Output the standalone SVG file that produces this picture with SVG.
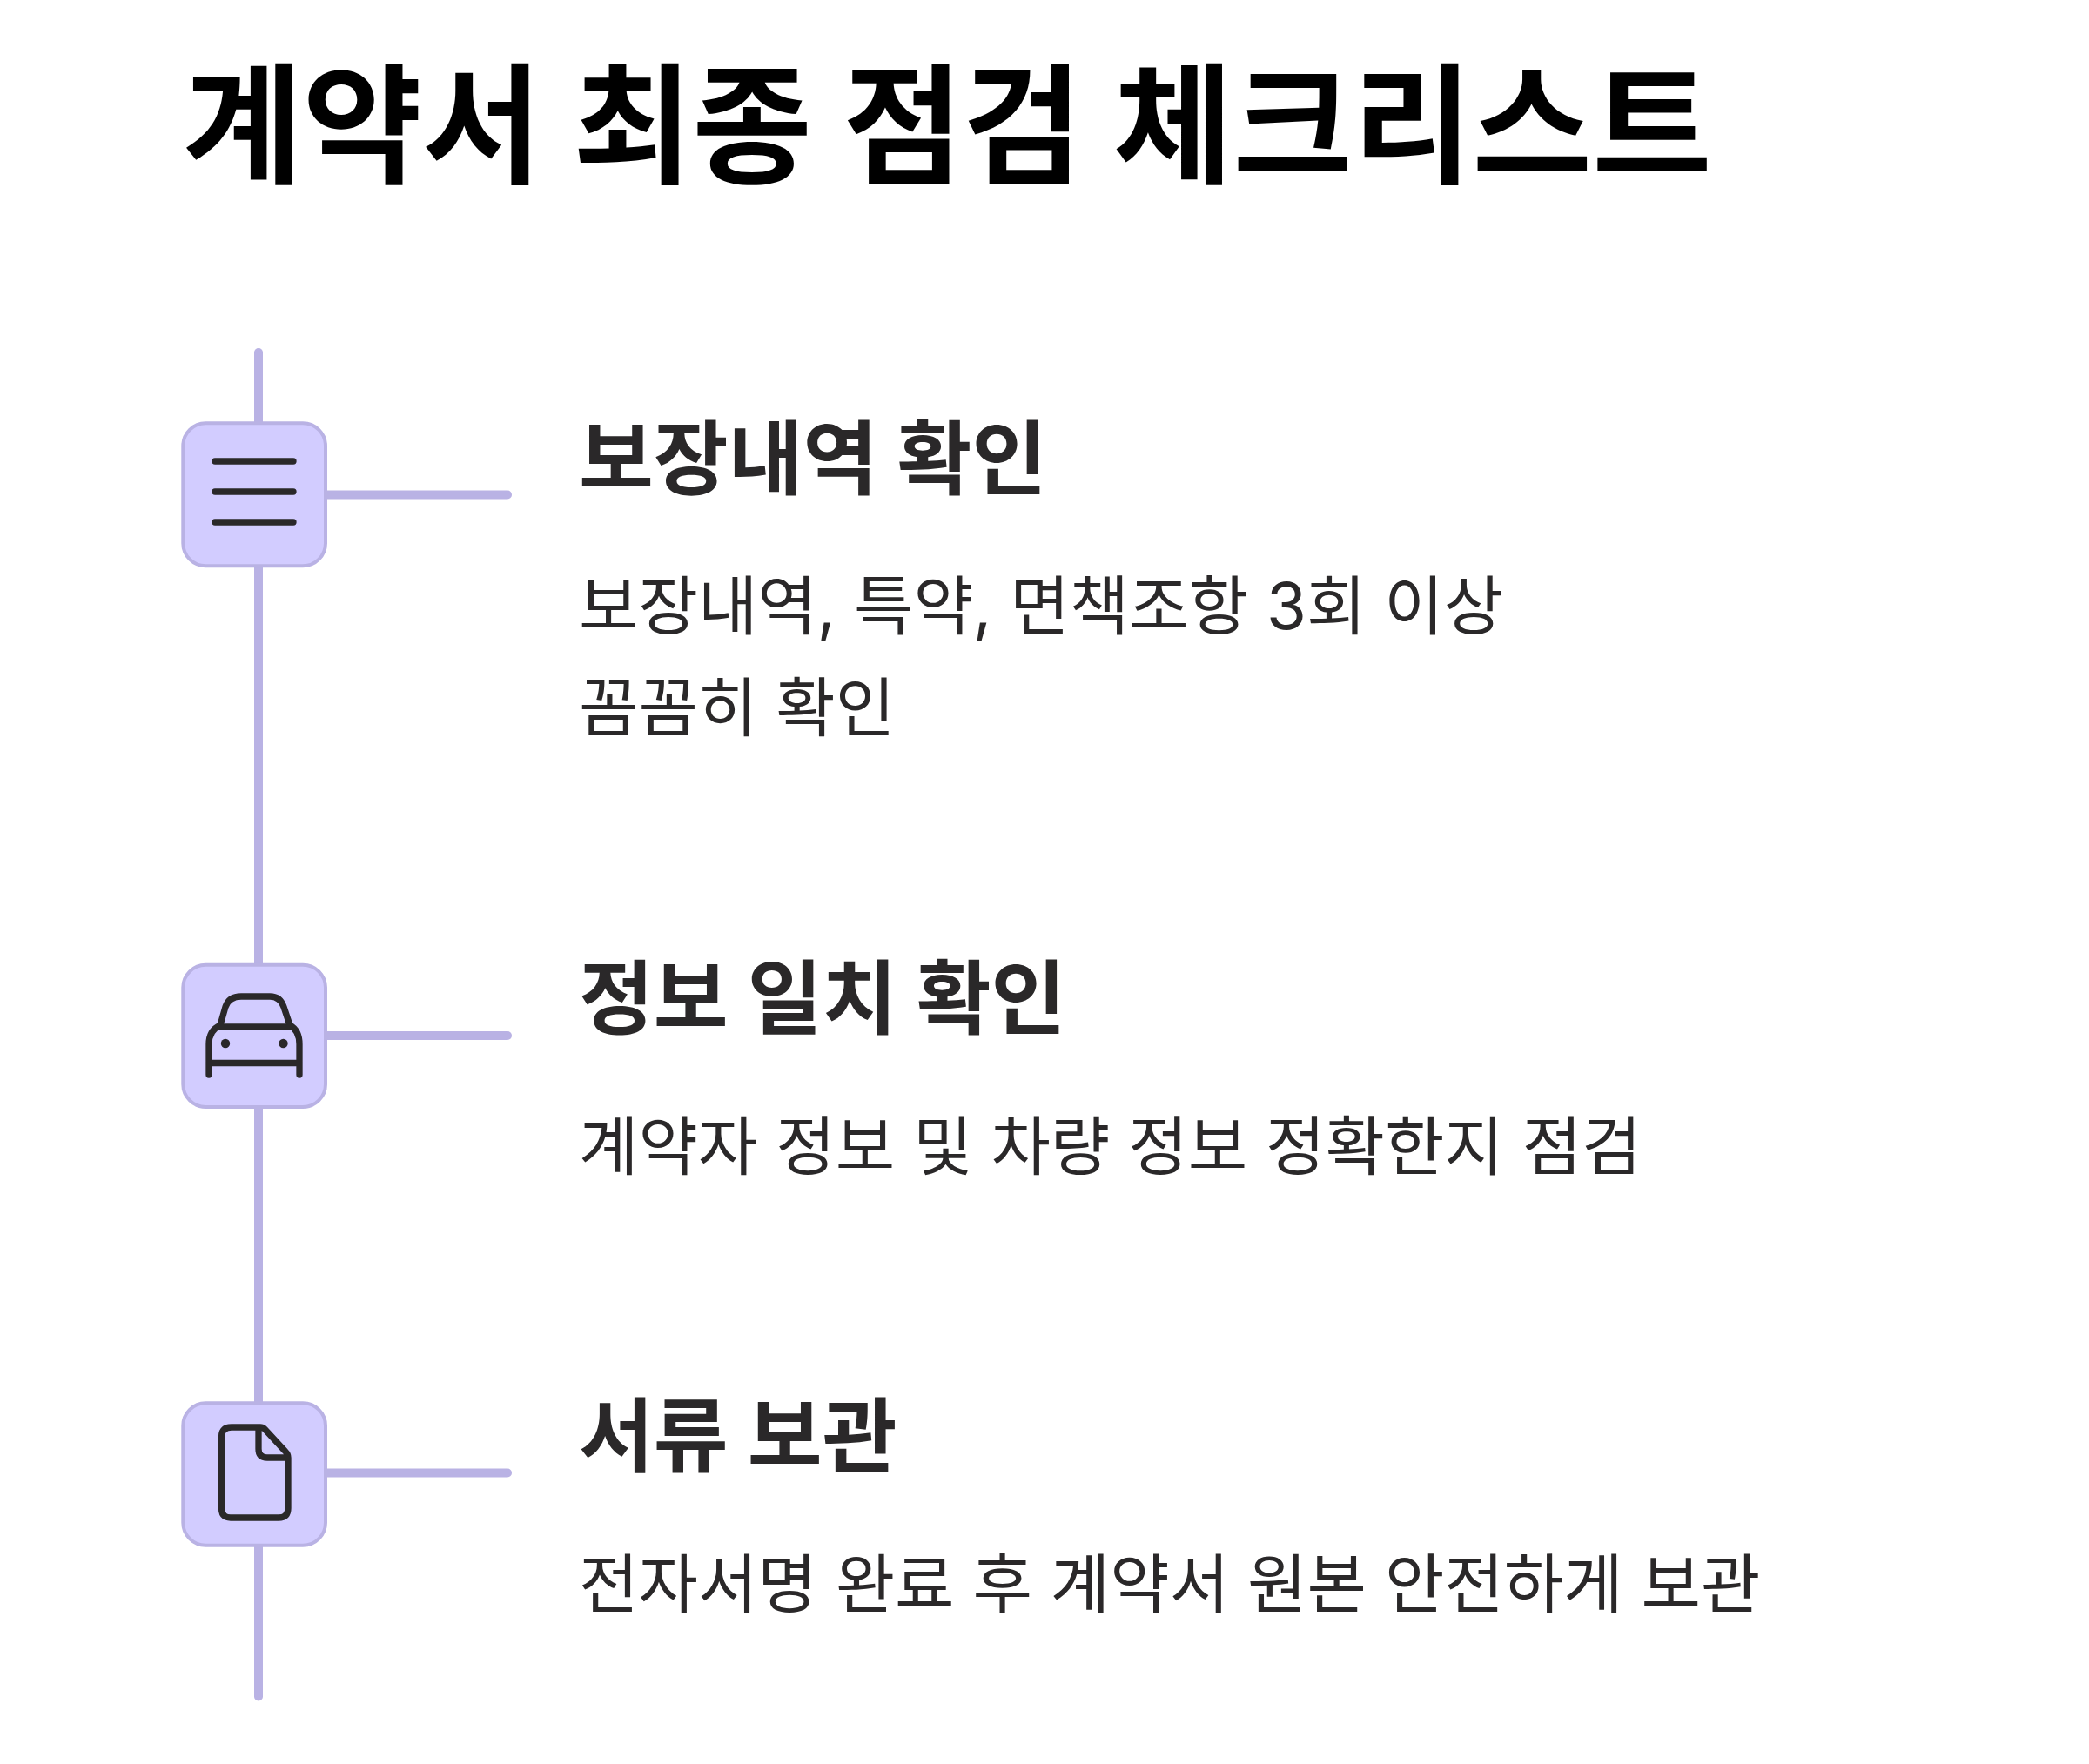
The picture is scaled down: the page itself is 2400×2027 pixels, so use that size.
<svg xmlns="http://www.w3.org/2000/svg" width="2400" height="2027" viewBox="0 0 2400 2027">
<style>
text{font-family:"Inter","Noto Sans CJK KR",sans-serif;fill:#2a2829}
.t{font-size:149.5px;font-weight:700;fill:#000}
.h{font-size:93.33px;font-weight:700}
.d{font-size:74.4px;font-weight:400}
.l{stroke:#b9b2e4;stroke-width:10;stroke-linecap:round;fill:none}
.b{fill:#d2ccff;stroke:#b9b2e4;stroke-width:4}
.i{fill:none;stroke:#2a2829;stroke-width:7.3;stroke-linecap:round;stroke-linejoin:round}
</style>
<rect width="2400" height="2027" fill="#fff"/>
<text class="t" x="210" y="199">계약서 최종 점검 체크리스트</text>
<g id="connectors">
<path class="l" d="M297 405V1949.500"/>
<path class="l" d="M375 568.500H583"/>
<path class="l" d="M375 1190H583"/>
<path class="l" d="M375 1692.500H583"/>
</g>
<g id="node1">
<rect class="b" x="210.300" y="486.300" width="163.700" height="164" rx="26"/>
<path class="i" d="M247 530H337M247 565H337M247 600H337"/>
<text class="h" x="665" y="561">보장내역 확인</text>
<text class="d" x="665" y="723">보장내역, 특약, 면책조항 3회 이상</text>
<text class="d" x="665" y="840">꼼꼼히 확인</text>
</g>
<g id="node2">
<rect class="b" x="210.300" y="1108.700" width="163.700" height="163.300" rx="26"/>
<path class="i" d="M240 1235V1200Q240 1184 253 1178L259 1157Q263 1145 277 1145H310Q322 1145 326 1157L333 1178Q344 1184 344 1200V1235M240 1221.500H344M253 1180H333"/>
<circle cx="259" cy="1199" r="5.200" fill="#2a2829"/><circle cx="325.500" cy="1199" r="5.200" fill="#2a2829"/>
<text class="h" x="665" y="1181">정보 일치 확인</text>
<text class="d" x="665" y="1344">계약자 정보 및 차량 정보 정확한지 점검</text>
</g>
<g id="node3">
<rect class="b" x="210.300" y="1612.300" width="163.700" height="163.500" rx="26"/>
<path class="i" d="M266 1640H299Q302 1640 304 1642L328 1668Q331 1671 331 1675V1733Q331 1744 320 1744H265Q254.500 1744 254.500 1733V1651Q254.500 1640 266 1640ZM297 1640V1665Q297 1675 307 1675H331"/>
<text class="h" x="665" y="1684">서류 보관</text>
<text class="d" x="665" y="1847">전자서명 완료 후 계약서 원본 안전하게 보관</text>
</g>
</svg>
